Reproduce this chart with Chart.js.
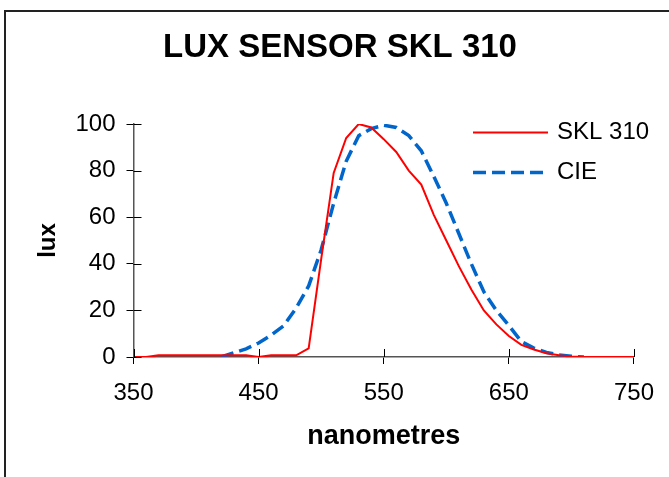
<!DOCTYPE html>
<html>
<head>
<meta charset="utf-8">
<script src="https://cdn.jsdelivr.net/npm/chart.js@4.4.1/dist/chart.umd.min.js"></script>
<style>
  html, body { margin: 0; padding: 0; background: #fff; overflow: hidden; }
  #frame { position: absolute; left: 4px; top: 10px; width: 800px; height: 600px; border: 2px solid #222; }
  #chart { position: absolute; left: 0; top: 0; }
</style>
</head>
<body>
<div id="frame"></div>
<canvas id="chart" width="669" height="477"></canvas>
<script>
// Spectral response (lux, 0-100)
const wavelengths = [350, 360, 370, 380, 390, 400, 410, 420, 430, 440,
  450, 460, 470, 480, 490, 500, 510, 520, 530, 540,
  550, 560, 570, 580, 590, 600, 610, 620, 630, 640,
  650, 660, 670, 680, 690, 700, 710, 720, 730, 740, 750];
const skl310 = [0, 0, 0.7, 0.7, 0.7, 0.7, 0.7, 0.7, 0.7, 0.7,
  0, 0.7, 0.7, 0.7, 3.7, 42, 79, 94, 100, 98.5,
  93.5, 88, 80, 74, 61, 50, 39, 29, 20, 14,
  9, 5.2, 3.2, 1.6, 0.8, 0.2, 0, 0, 0, 0, 0];

const cieWavelengths = [420, 430, 440, 450, 460, 470, 480, 490, 500, 510,
  520, 530, 540, 550, 560, 570, 580, 590, 600, 610,
  620, 630, 640, 650, 660, 670, 680, 690, 700, 710];
const cie = [0, 1.8, 3.5, 6, 9.4, 13.4, 21, 30.5, 46, 66,
  84, 95, 98, 99.5, 98.5, 95, 88.5, 77.5, 66, 53,
  40, 28, 20, 13.5, 6.6, 3.8, 2, 0.9, 0.3, 0];

const xTicks = [350, 450, 550, 650, 750];
const yTicks = [0, 20, 40, 60, 80, 100];

const FONT = "'Liberation Sans', Arial, Helvetica, sans-serif";
Chart.defaults.font.family = FONT;
Chart.defaults.color = "#000";

// small tick marks that poke into the plot area too
const innerTicks = {
  id: "innerTicks",
  afterDraw(chart) {
    const { ctx, chartArea, scales } = chart;
    ctx.save();
    ctx.strokeStyle = "#000";
    ctx.lineWidth = 1;
    scales.x.ticks.forEach(t => {
      const px = Math.round(scales.x.getPixelForValue(t.value)) + 0.5;
      ctx.beginPath();
      ctx.moveTo(px, chartArea.bottom);
      ctx.lineTo(px, chartArea.bottom - 8);
      ctx.stroke();
    });
    scales.y.ticks.forEach(t => {
      const py = Math.round(scales.y.getPixelForValue(t.value)) + 0.5;
      ctx.beginPath();
      ctx.moveTo(chartArea.left, py);
      ctx.lineTo(chartArea.left + 8, py);
      ctx.stroke();
    });
    ctx.restore();
  }
};

// legend sits inside the plot, top right
const lineLegend = {
  id: "lineLegend",
  afterDatasetsDraw(chart) {
    const { ctx } = chart;
    ctx.save();
    chart.data.datasets.forEach((ds, i) => {
      const y = 132.5 + i * 40;
      ctx.strokeStyle = ds.borderColor;
      ctx.lineWidth = ds.borderWidth;
      ctx.setLineDash(ds.borderDash || []);
      ctx.beginPath();
      ctx.moveTo(473, y);
      ctx.lineTo(548, y);
      ctx.stroke();
      ctx.setLineDash([]);
      ctx.fillStyle = "#000";
      ctx.font = "24px " + FONT;
      ctx.textBaseline = "middle";
      ctx.textAlign = "left";
      ctx.fillText(ds.label, 557, y);
    });
    ctx.restore();
  }
};

new Chart(document.getElementById("chart"), {
  type: "line",
  data: {
    datasets: [
      {
        label: "SKL 310",
        data: wavelengths.map((w, i) => ({ x: w, y: skl310[i] })),
        borderColor: "#ff0000",
        borderWidth: 2,
        pointRadius: 0,
        tension: 0
      },
      {
        label: "CIE",
        data: cieWavelengths.map((w, i) => ({ x: w, y: cie[i] })),
        borderColor: "#0066cc",
        borderWidth: 3.5,
        borderDash: [13, 6],
        pointRadius: 0,
        tension: 0
      }
    ]
  },
  options: {
    responsive: false,
    animation: false,
    layout: { padding: { left: 46, right: 35, top: 0, bottom: 20 } },
    plugins: {
      legend: { display: false },
      tooltip: { enabled: false },
      title: {
        display: true,
        text: "LUX SENSOR SKL 310",
        color: "#000",
        font: { size: 33, weight: "bold" },
        padding: { top: 28, bottom: 56.4 }
      }
    },
    scales: {
      x: {
        type: "linear",
        min: 350,
        max: 750,
        afterBuildTicks: s => { s.ticks = xTicks.map(v => ({ value: v })); },
        afterFit: s => { s.height = 100; },
        grid: { drawOnChartArea: false, drawTicks: true, tickLength: 7, color: "#000" },
        border: { color: "#555", width: 1.5 },
        ticks: { padding: 15, font: { size: 24 } },
        title: {
          display: true,
          text: "nanometres",
          font: { size: 27, weight: "bold" },
          padding: { top: 0, bottom: 4 }
        }
      },
      y: {
        min: 0,
        max: 100,
        afterBuildTicks: s => { s.ticks = yTicks.map(v => ({ value: v })); },
        afterFit: s => { s.width = 87.5; },
        grid: { drawOnChartArea: false, drawTicks: true, tickLength: 7, color: "#000" },
        border: { color: "#555", width: 1.5 },
        ticks: { padding: 11, font: { size: 24 } },
        title: {
          display: true,
          text: "lux",
          font: { size: 24, weight: "bold" },
          padding: { top: -12, bottom: 0 }
        }
      }
    }
  },
  plugins: [innerTicks, lineLegend]
});
</script>
</body>
</html>
